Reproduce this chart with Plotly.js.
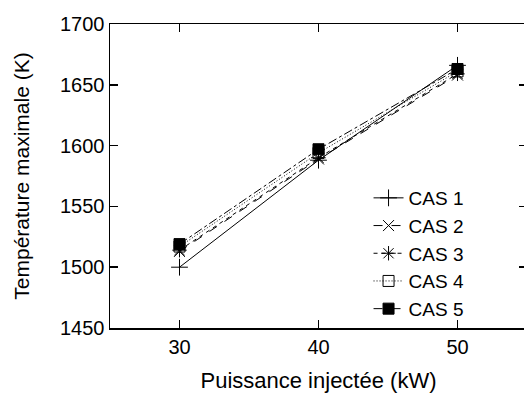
<!DOCTYPE html>
<html>
<head>
<meta charset="utf-8">
<script src="https://cdn.plot.ly/plotly-3.0.1.min.js"></script>
<style>
html, body { margin: 0; padding: 0; overflow: hidden; background: #fff; }
#chart { width: 530px; height: 397px; }
</style>
</head>
<body>
<div id="chart"></div>
<script>
// Data
const puissance = [30, 40, 50];
const cas1 = [1500, 1588, 1666];
const cas2 = [1513, 1589, 1658];
const cas3 = [1514, 1590, 1659];
const cas4 = [1517, 1594, 1661];
const cas5 = [1519, 1597, 1663];
const seriesNames = ["CAS 1", "CAS 2", "CAS 3", "CAS 4", "CAS 5"];
const xTicks = [30, 40, 50];
const yTicks = [1450, 1500, 1550, 1600, 1650, 1700];

const allSeries = [cas1, cas2, cas3, cas4, cas5];
const dashes = ["solid", "dash", "4px,4px", "1px,2px", "dashdot"];
const symbols = ["cross-thin-open", "x-thin-open", "asterisk-open", "square-open", "square"];
const sizes = [12, 11, 12, 11, 11];

const traces = allSeries.map((vals, i) => ({
  x: puissance,
  y: vals,
  name: seriesNames[i],
  type: "scatter",
  mode: "lines+markers",
  line: { color: "#000", width: 1, dash: dashes[i] },
  marker: {
    symbol: symbols[i],
    size: sizes[i],
    color: "#000",
    line: { color: i === 3 ? "#555" : "#000", width: 1 }
  }
}));

const fam = "Liberation Sans, Arial, sans-serif";

const layout = {
  width: 530,
  height: 397,
  margin: { l: 110, r: 3, t: 24, b: 69 },
  paper_bgcolor: "#fff",
  plot_bgcolor: "#fff",
  font: { family: fam, size: 20, color: "#000" },
  showlegend: true,
  legend: {
    x: 0.62, xanchor: "left",
    y: 0.0, yanchor: "bottom",
    bgcolor: "rgba(0,0,0,0)",
    font: { family: fam, size: 19, color: "#000" },
    tracegroupgap: 0
  },
  xaxis: {
    range: [25, 55],
    tickvals: xTicks,
    ticktext: xTicks.map(String),
    ticks: "inside",
    ticklen: 8,
    tickwidth: 1.5,
    tickcolor: "#000",
    showline: true,
    linecolor: "#000",
    linewidth: 1.5,
    mirror: "ticks",
    showgrid: false,
    zeroline: false,
    tickfont: { family: fam, size: 20, color: "#000" },
    title: { text: "Puissance injectée (kW)", font: { family: fam, size: 22, color: "#000" }, standoff: 16 }
  },
  yaxis: {
    range: [1450, 1700],
    tickvals: yTicks,
    ticktext: yTicks.map(String),
    ticks: "inside",
    ticklen: 8,
    tickwidth: 1.5,
    tickcolor: "#000",
    showline: true,
    linecolor: "#000",
    linewidth: 1.5,
    mirror: "ticks",
    showgrid: false,
    zeroline: false,
    tickfont: { family: fam, size: 20, color: "#000" },
    title: { text: "Température maximale (K)", font: { family: fam, size: 21, color: "#000" }, standoff: 24 }
  }
};

Plotly.newPlot("chart", traces, layout, { displayModeBar: false, staticPlot: true });
</script>
</body>
</html>
